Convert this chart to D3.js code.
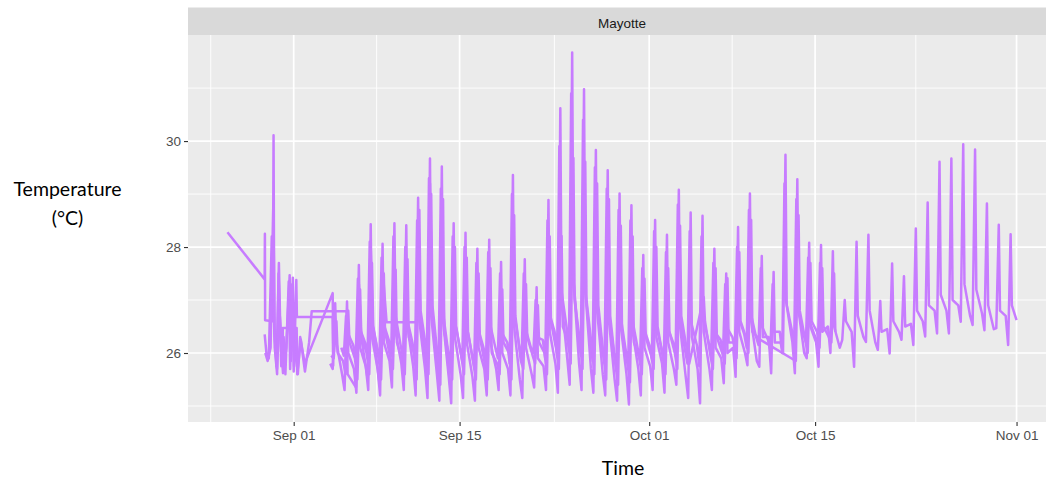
<!DOCTYPE html>
<html>
<head>
<meta charset="utf-8">
<script src="https://cdn.jsdelivr.net/npm/d3@7"></script>
<style>
  body { margin: 0; background: #ffffff; }
  svg { display: block; }
</style>
</head>
<body>
<svg id="chart" width="1046" height="482"></svg>
<script>
// ---- data -------------------------------------------------------------
const site = "Mayotte";
const yTitleLines = ["Temperature", "(°C)"];
const xTitle = "Time";

// readings are stored as days counted from 1 September
const xTickDays = [0, 14, 30, 44, 61];
const xTickLabels = ["Sep 01", "Sep 15", "Oct 01", "Oct 15", "Nov 01"];
const xMinorDays = [-7, 7, 22, 37, 52.5];
const yTicks = [26, 28, 30];
const yMinor = [25, 27, 29, 31];

// logger A: dawn low / midday high / afternoon / small-hours readings, 4 Sep - 31 Oct
const loggerAFirstDay = 3;
const loggerAHours = [7, 12, 14.5, 2];
const loggerALow = [
  25.70, 25.30, 25.25, 25.30, 25.20, 25.35, 25.30,
  25.20, 25.15, 25.10, 25.05, 25.15, 25.10, 25.20,
  25.30, 25.20, 25.15, 25.35, 25.30, 25.25, 25.40,
  25.30, 25.25, 25.20, 25.10, 25.03, 25.20, 25.30,
  25.25, 25.40, 25.15, 25.05, 25.30,
  25.43, 25.55, 25.77, 25.74, 25.62, 26.00, 25.62, 25.90, 25.74,
  26.00, 26.25, 25.74, 26.21, 26.06, 25.99, 26.25,
  26.15, 26.31, 26.37, 26.37, 26.59, 26.53, 26.43, 26.47, 26.15
];
const loggerAHigh = [
  26.94, 26.97, 27.66, 28.43, 28.06, 28.45, 28.41,
  28.93, 29.67, 29.52, 28.45, 28.27, 27.97, 28.14,
  27.72, 29.36, 27.77, 27.24, 28.89, 30.62, 31.67,
  30.98, 29.83, 29.45, 29.01, 28.79, 27.85, 28.51,
  28.23, 29.08, 28.65, 28.59, 27.97,
  27.50, 28.38, 29.01, 27.83, 27.53, 29.74, 29.28, 28.08, 28.04,
  27.92, 27.00, 28.10, 28.23, 26.98, 27.69, 27.45,
  28.35, 28.84, 29.61, 29.67, 29.94, 29.84, 28.82, 28.42, 28.24
];
const loggerAEve = [
  26.20, 26.00, 26.10, 26.30, 26.20, 26.40, 26.50,
  26.60, 26.70, 26.60, 26.30, 26.20, 26.10, 26.20,
  26.00, 26.50, 26.10, 25.90, 26.40, 27.00, 27.40,
  27.20, 26.80, 26.60, 26.50, 26.40, 26.10, 26.30,
  26.20, 26.50, 26.30, 26.40, 26.10,
  26.00, 26.40, 26.60, 26.30, 26.20, 26.90, 26.80, 26.50, 26.40,
  26.50, 26.60, 26.70, 26.80, 26.40, 26.60, 26.50,
  26.80, 26.90, 27.10, 27.00, 27.30, 27.20, 26.90, 26.80, 26.90
];
const loggerANight = [
  25.80, 25.60, 25.70, 25.75, 25.70, 25.85, 25.80,
  25.75, 25.70, 25.60, 25.55, 25.60, 25.55, 25.70,
  25.70, 25.70, 25.50, 25.60, 25.75, 25.80, 25.90,
  25.80, 25.70, 25.60, 25.50, 25.60, 25.70, 25.75,
  25.80, 25.70, 25.55, 25.70, 25.70,
  25.90, 26.10, 26.00, 25.85, 26.30, 26.20, 26.20, 26.00, 26.20,
  26.50, 26.10, 26.40, 26.30, 26.20, 26.45, 26.40,
  26.55, 26.60, 26.80, 26.80, 26.90, 26.70, 26.75, 26.45, 26.70
];
const loggerAFinal = [[61.0, 26.62]];

// logger B: same schedule, 4 Sep - 15 Oct, null where a reading is missing
const loggerBFirstDay = 3;
const loggerBHours = [9, 14.5, 17, 4];
const loggerBLow = [
  25.90, 25.60, 25.50, 25.60, 25.50, 25.70, 25.60,
  25.50, 25.60, 25.40, 25.50, 25.60, 25.50, 25.50,
  25.60, 25.50, 25.70, 25.80, 25.60, 25.70, 25.80,
  25.70, 25.60, 25.50, 25.40, 25.45, 25.60, 25.70,
  25.60, 25.70, 25.80, null,
  25.70, 25.80, 25.90, 26.00, 26.25, null, null,
  25.85, 26.00, 26.10, 26.20
];
const loggerBHigh = [
  26.60, 26.80, 27.20, 27.70, 27.50, 27.57, 27.77,
  28.70, 29.00, 28.90, 28.00, 27.80, 27.50, 27.60,
  27.20, 28.60, 27.30, 26.90, 28.20, 28.21, 29.68,
  29.61, 29.20, 28.90, 28.40, 28.20, 27.40, 28.00,
  27.60, 28.40, null, 27.06,
  27.60, 27.41, 27.90, 28.51, null, null, null,
  28.60, 27.70, 27.60, 27.50
];
const loggerBEve = [
  26.00, 26.20, 26.30, 26.50, 26.40, 26.20, 26.30,
  26.80, 26.90, 26.40, 26.50, 26.40, 26.30, 26.00,
  26.20, 26.70, 26.30, 26.20, 26.60, 26.50, 27.00,
  27.00, 26.90, 26.70, 26.40, 26.20, 26.30, 26.50,
  26.40, 26.70, null, 26.60,
  26.30, 26.20, 26.60, 26.40, null, null, null,
  26.80, 26.60, 26.50, 26.40
];
const loggerBNight = [
  25.95, 25.85, 25.90, 26.00, 25.95, 25.90, 25.85,
  26.00, 26.10, 25.90, 25.85, 25.90, 25.80, 25.75,
  25.80, 26.00, 25.85, 25.95, 26.00, 26.05, 26.20,
  26.20, 26.10, 25.90, 25.75, 25.80, 25.90, 25.95,
  25.90, 26.00, null, null,
  25.95, 26.00, 26.20, 26.30, null, null, null,
  null, 26.25, 26.40, 26.30
];

// logger F: same schedule, 5 Sep - 14 Oct
const loggerFFirstDay = 4;
const loggerFHours = [5.5, 10, 12.5, 0.5];
const loggerFLow = [
  25.95, 25.85, 25.90, 25.80, 25.95, 25.90, 25.80,
  25.75, 25.80, 25.70, 25.85, 25.75, 25.80, 25.90,
  25.80, 25.85, 26.00, 25.90, 25.95, 26.05, 25.95,
  25.85, 25.80, 25.70, 25.75, 25.85, 25.90, 25.85,
  25.95, 25.80, 25.75, 25.95, 26.00, 26.05, 26.10,
  26.15, 26.05, 26.00, 26.10, 26.20, 26.10
];
const loggerFHigh = [
  26.70, 27.40, 28.10, 27.80, 28.20, 28.00, 28.50,
  29.30, 29.10, 28.20, 28.00, 27.70, 27.90, 27.50,
  29.00, 27.50, 27.00, 28.50, 29.90, 30.90, 30.40,
  29.50, 29.10, 28.70, 28.50, 27.60, 28.30, 27.90,
  28.80, 28.30, 28.20, 27.70, 27.30, 28.00, 28.70,
  27.60, 27.30, 29.20, 28.90, 27.80, 27.70
];
const loggerFEve = [
  26.40, 26.50, 26.70, 26.60, 26.80, 26.70, 26.90,
  27.00, 26.90, 26.70, 26.60, 26.50, 26.60, 26.40,
  26.90, 26.50, 26.30, 26.80, 27.30, 27.60, 27.40,
  27.10, 26.90, 26.80, 26.70, 26.50, 26.60, 26.50,
  26.80, 26.60, 26.70, 26.40, 26.50, 26.70, 26.80,
  26.50, 26.40, 27.00, 26.90, 26.60, 26.50
];
const loggerFNight = [
  26.10, 26.15, 26.20, 26.10, 26.25, 26.15, 26.20,
  26.20, 26.10, 26.05, 26.10, 26.00, 26.10, 26.10,
  26.20, 26.15, 26.10, 26.25, 26.40, 26.50, 26.30,
  26.20, 26.10, 26.00, 26.05, 26.10, 26.15, 26.10,
  26.20, 26.05, 26.15, 26.20, 26.25, 26.30, 26.35,
  26.30, 26.25, 26.40, 26.45, 26.35, 26.30
];

// loggers C, D, E: irregular deployment readings, [day, °C]
const loggerC = [
  [-5.59, 28.28], [-2.45, 27.39], [-2.43, 28.25], [-2.41, 26.62], [-1.78, 26.60],
  [-1.74, 27.95], [-1.70, 30.11], [-1.64, 26.50], [-1.45, 25.75], [-1.25, 27.70],
  [-1.12, 26.30], [-0.90, 25.62], [-0.62, 26.10], [-0.34, 27.47], [-0.24, 25.85],
  [-0.07, 27.42], [0.03, 25.75], [0.22, 27.38], [0.27, 26.68], [3.29, 26.68],
  [3.33, 25.75]
];
const loggerD = [
  [-2.45, 26.35], [-2.30, 26.00], [-2.10, 25.90], [-1.85, 28.20], [-1.60, 26.10],
  [-1.40, 25.60], [-1.28, 27.50], [-1.05, 25.75], [-0.85, 26.30], [-0.70, 25.60],
  [-0.42, 27.35], [-0.30, 25.70], [-0.12, 27.30], [0.00, 25.65], [0.10, 26.20],
  [0.35, 25.60], [0.55, 26.30], [0.93, 25.80], [3.29, 27.13], [3.35, 25.90]
];
const loggerE = [
  [-2.40, 26.00], [-2.20, 25.85], [-1.95, 26.10], [-1.72, 28.80], [-1.60, 26.30],
  [-1.40, 25.70], [-1.20, 26.80], [-0.93, 25.77], [-0.92, 26.47], [0.25, 26.47],
  [0.30, 25.60], [0.60, 26.25], [0.95, 25.65], [1.30, 26.20], [1.52, 26.79],
  [4.47, 26.79], [4.55, 25.60], [5.25, 25.35], [5.50, 27.30], [5.70, 26.30],
  [6.25, 25.50], [6.50, 28.00], [6.70, 26.40], [7.25, 25.40], [7.50, 27.60],
  [7.84, 26.58], [10.37, 26.58], [10.50, 28.20], [10.70, 26.70], [11.25, 25.50],
  [11.50, 29.20], [11.70, 26.80], [12.25, 25.40], [12.50, 28.40], [12.70, 26.50],
  [13.25, 25.30]
];

// ---- helpers ----------------------------------------------------------
const origin = Date.UTC(2019, 8, 1);
const toDate = d => new Date(origin + d * 864e5);

// one point per scheduled reading; columns hold the values for each reading hour
function dailySeries(firstDay, hours, columns) {
  const pts = [];
  columns[0].forEach((_, i) => {
    hours.forEach((h, k) => {
      const t = columns[k][i];
      if (t != null) pts.push({ date: toDate(firstDay + i + h / 24), temp: t });
    });
  });
  return pts.sort((a, b) => a.date - b.date);
}
const pairSeries = arr => arr.map(([d, t]) => ({ date: toDate(d), temp: t }));

const loggers = [
  pairSeries(loggerC),
  pairSeries(loggerD),
  pairSeries(loggerE),
  dailySeries(loggerFFirstDay, loggerFHours, [loggerFLow, loggerFHigh, loggerFEve, loggerFNight]),
  dailySeries(loggerBFirstDay, loggerBHours, [loggerBLow, loggerBHigh, loggerBEve, loggerBNight]),
  dailySeries(loggerAFirstDay, loggerAHours, [loggerALow, loggerAHigh, loggerAEve, loggerANight])
    .concat(pairSeries(loggerAFinal))
];

// ---- layout -----------------------------------------------------------
const W = 1046, H = 482;
const panel = { left: 188, right: 1056, top: 35, bottom: 422 };
const strip = { top: 7.5, bottom: 35 };
const lineColor = "#C77CFF";

const all = loggers.flat();
const expand = (ext) => { const p = (ext[1] - ext[0]) * 0.05; return [ext[0] - p, ext[1] + p]; };
const xExt = d3.extent(all, d => +d.date);
const x = d3.scaleUtc().domain(expand(xExt).map(v => new Date(v))).range([panel.left, panel.right]);
const y = d3.scaleLinear().domain(expand(d3.extent(all, d => d.temp))).range([panel.bottom, panel.top]);

const svg = d3.select("#chart");
svg.append("rect").attr("width", W).attr("height", H).attr("fill", "#ffffff");

svg.append("defs").append("clipPath").attr("id", "panel-clip")
  .append("rect")
  .attr("x", panel.left).attr("y", panel.top)
  .attr("width", panel.right - panel.left).attr("height", panel.bottom - panel.top);

// panel background
svg.append("rect")
  .attr("x", panel.left).attr("y", panel.top)
  .attr("width", panel.right - panel.left).attr("height", panel.bottom - panel.top)
  .attr("fill", "#EBEBEB");

const grid = svg.append("g").attr("clip-path", "url(#panel-clip)");
grid.selectAll("line.ymin").data(yMinor).join("line")
  .attr("x1", panel.left).attr("x2", panel.right)
  .attr("y1", d => y(d)).attr("y2", d => y(d))
  .attr("stroke", "#ffffff").attr("stroke-width", 0.9);
grid.selectAll("line.xmin").data(xMinorDays).join("line")
  .attr("x1", d => x(toDate(d))).attr("x2", d => x(toDate(d)))
  .attr("y1", panel.top).attr("y2", panel.bottom)
  .attr("stroke", "#ffffff").attr("stroke-width", 0.9);
grid.selectAll("line.ymaj").data(yTicks).join("line")
  .attr("x1", panel.left).attr("x2", panel.right)
  .attr("y1", d => y(d)).attr("y2", d => y(d))
  .attr("stroke", "#ffffff").attr("stroke-width", 1.7);
grid.selectAll("line.xmaj").data(xTickDays).join("line")
  .attr("x1", d => x(toDate(d))).attr("x2", d => x(toDate(d)))
  .attr("y1", panel.top).attr("y2", panel.bottom)
  .attr("stroke", "#ffffff").attr("stroke-width", 1.7);

// temperature traces
const line = d3.line().x(d => x(d.date)).y(d => y(d.temp));
svg.append("g").attr("clip-path", "url(#panel-clip)")
  .selectAll("path").data(loggers).join("path")
  .attr("d", line)
  .attr("fill", "none")
  .attr("stroke", lineColor)
  .attr("stroke-width", 2.5)
  .attr("stroke-linejoin", "round");

// facet strip
svg.append("rect")
  .attr("x", panel.left).attr("y", strip.top)
  .attr("width", panel.right - panel.left).attr("height", strip.bottom - strip.top)
  .attr("fill", "#D9D9D9");
svg.append("text")
  .attr("x", (panel.left + panel.right) / 2).attr("y", 27.5)
  .attr("text-anchor", "middle")
  .attr("font-family", "'Liberation Sans', Arial, sans-serif")
  .attr("font-size", 13.5).attr("fill", "#1A1A1A")
  .text(site);

// axes
const axisFont = "'Liberation Sans', Arial, sans-serif";
const yAxis = d3.axisLeft(y).tickValues(yTicks).tickSize(4).tickPadding(3).tickFormat(d3.format("d"));
const gy = svg.append("g").attr("transform", `translate(${panel.left},0)`).call(yAxis);
const xAxis = d3.axisBottom(x).tickValues(xTickDays.map(toDate)).tickSize(4).tickPadding(4)
  .tickFormat((d, i) => xTickLabels[i]);
const gx = svg.append("g").attr("transform", `translate(0,${panel.bottom})`).call(xAxis);
[gx, gy].forEach(g => {
  g.select(".domain").remove();
  g.selectAll(".tick line").attr("stroke", "#333333").attr("stroke-width", 1.1);
  g.selectAll(".tick text").attr("fill", "#4D4D4D")
    .attr("font-family", axisFont).attr("font-size", 13.5);
});

// axis titles
const titleFont = "Lato, 'Open Sans', sans-serif";
svg.append("text")
  .attr("x", 67.5).attr("y", 195.5)
  .attr("text-anchor", "middle")
  .attr("font-family", titleFont).attr("font-size", 19.5).attr("fill", "#000000")
  .selectAll("tspan").data(yTitleLines).join("tspan")
  .attr("x", 67.5).attr("dy", (d, i) => i === 0 ? 0 : 29.5)
  .text(d => d);
svg.append("text")
  .attr("x", 623).attr("y", 474.5)
  .attr("text-anchor", "middle")
  .attr("font-family", titleFont).attr("font-size", 19.5).attr("fill", "#000000")
  .text(xTitle);
</script>
</body>
</html>
